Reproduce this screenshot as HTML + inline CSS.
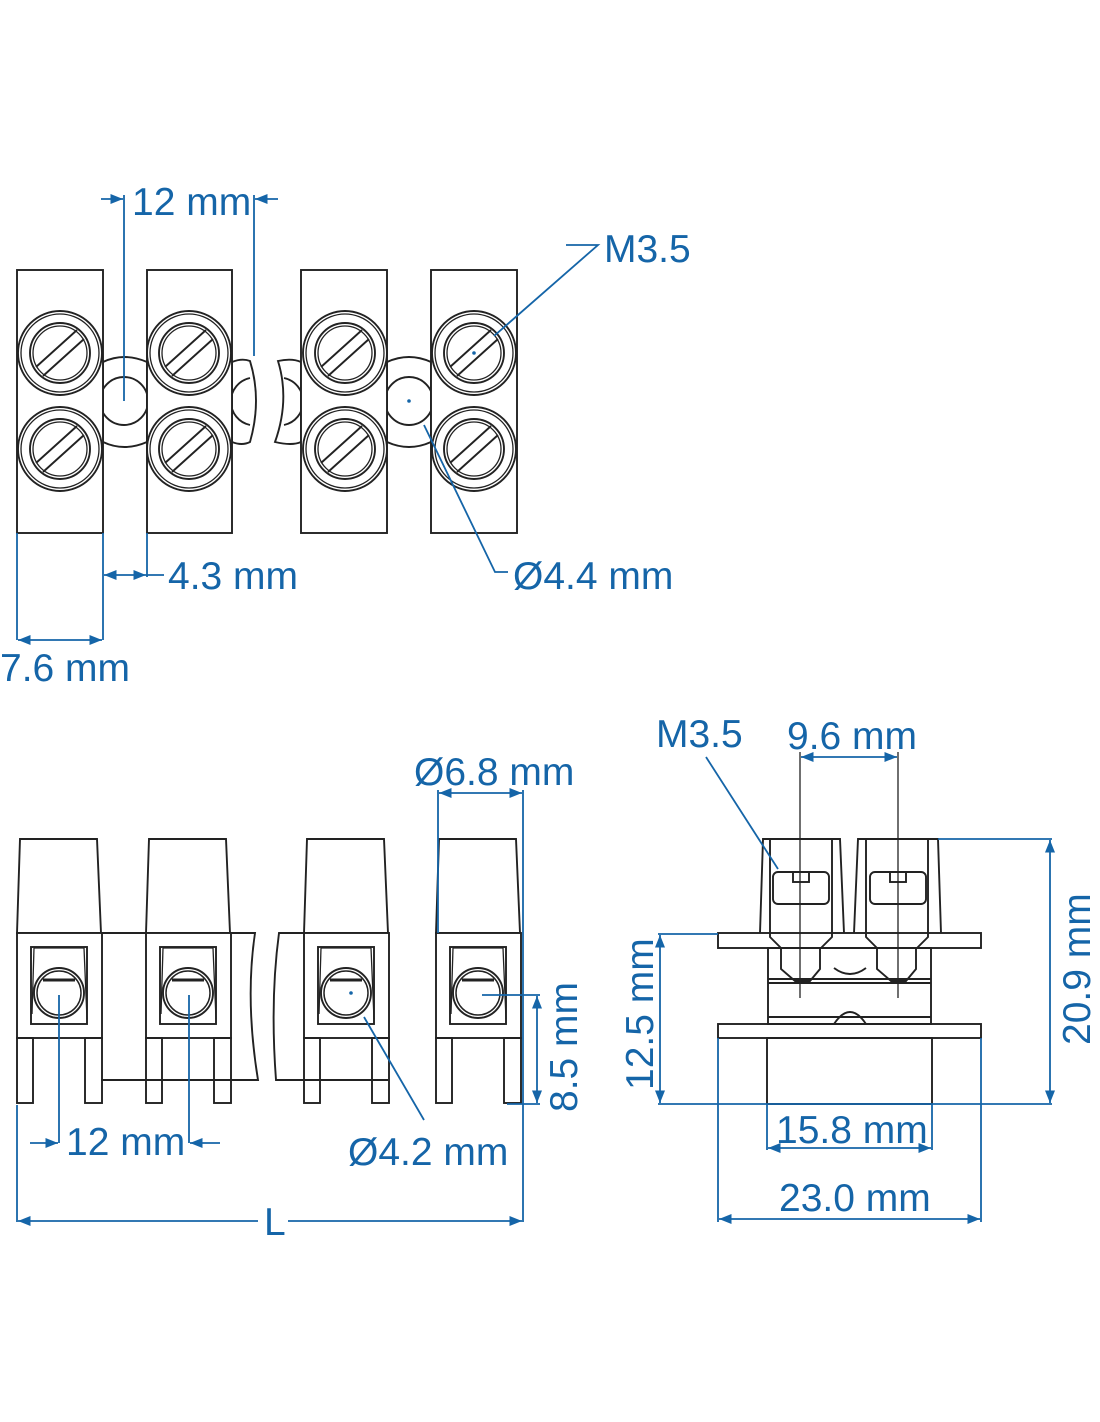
<!DOCTYPE html>
<html><head><meta charset="utf-8"><style>
html,body{margin:0;padding:0;background:#fff;}
svg{display:block;}
text{font-family:"Liberation Sans",sans-serif;fill:#1565a8;font-size:39px;}
</style></head><body>
<svg width="1100" height="1422" viewBox="0 0 1100 1422" xmlns="http://www.w3.org/2000/svg">
<defs>
<marker id="ar" viewBox="0 0 10 10" refX="10" refY="5" markerWidth="7" markerHeight="7" orient="auto-start-reverse"><path d="M0 1 L10 5 L0 9 Z" fill="#1565a8"/></marker>
<g id="scr">
<circle r="42" fill="none" stroke="#222" stroke-width="1.9"/>
<circle r="39" fill="none" stroke="#222" stroke-width="1.3"/>
<circle r="30" fill="none" stroke="#222" stroke-width="1.9"/>
<circle r="27" fill="none" stroke="#222" stroke-width="1.3"/>
<line x1="-24" y1="14" x2="17" y2="-23" stroke="#222" stroke-width="1.9"/>
<line x1="-17" y1="23" x2="24" y2="-14" stroke="#222" stroke-width="1.9"/>
</g>
<g id="fb">
<path d="M3 0 L80 0 L84 94 L0 94 Z" fill="none" stroke="#222" stroke-width="1.9"/>
<rect x="0" y="94" width="85" height="105" fill="#fff" stroke="#222" stroke-width="1.9"/>
<rect x="14" y="108" width="56" height="77" fill="none" stroke="#222" stroke-width="1.9"/>
<path d="M17 109 L67 109 L70 180" fill="none" stroke="#222" stroke-width="1.3"/>
<path d="M17 109 L15 175" fill="none" stroke="#222" stroke-width="1.3"/>
<circle cx="42" cy="154" r="25" fill="none" stroke="#222" stroke-width="1.9"/>
<circle cx="42" cy="154" r="22" fill="none" stroke="#222" stroke-width="1.5"/>
<line x1="26" y1="141" x2="58" y2="141" stroke="#222" stroke-width="3"/>
<rect x="0" y="199" width="16" height="65" fill="none" stroke="#222" stroke-width="1.9"/>
<rect x="68" y="199" width="17" height="65" fill="none" stroke="#222" stroke-width="1.9"/>
</g>
</defs>
<g fill="none" stroke="#222" stroke-width="1.9">
<path d="M103 362 Q124 352 147 362 L147 442 Q124 452 103 442 Z" fill="#fff"/>
<path d="M232 362 Q242 358 250 361 Q262 400 250 442 Q242 446 232 442 Z" fill="#fff"/>
<path d="M301 362 Q292 358 278 361 Q290 400 275 442 Q292 446 301 442 Z" fill="#fff"/>
<path d="M387 362 Q409 352 431 362 L431 442 Q409 452 387 442 Z" fill="#fff"/>
<circle cx="124" cy="401" r="24"/>
<circle cx="409" cy="401" r="24"/>
<path d="M250 378 A24 24 0 0 0 250 425"/>
<path d="M284 378 A24 24 0 0 1 284 425"/>
<rect x="17" y="270" width="86" height="263" fill="#fff"/>
<rect x="147" y="270" width="85" height="263" fill="#fff"/>
<rect x="301" y="270" width="86" height="263" fill="#fff"/>
<rect x="431" y="270" width="86" height="263" fill="#fff"/>
</g>
<use href="#scr" x="60" y="353"/><use href="#scr" x="60" y="449"/>
<use href="#scr" x="189" y="353"/><use href="#scr" x="189" y="449"/>
<use href="#scr" x="345" y="353"/><use href="#scr" x="345" y="449"/>
<use href="#scr" x="474" y="353"/><use href="#scr" x="474" y="449"/>

<g fill="none" stroke="#222" stroke-width="1.9">
<path d="M101 933 L255 933 Q245 1000 258 1080 L101 1080"/>
<path d="M388 933 L279 933 Q270 1000 276 1080 L388 1080"/>
</g>
<use href="#fb" x="17" y="839"/>
<use href="#fb" x="146" y="839"/>
<use href="#fb" x="304" y="839"/>
<use href="#fb" x="436" y="839"/>

<g fill="none" stroke="#222" stroke-width="1.9">
<rect x="718" y="933" width="263" height="15"/>
<rect x="768" y="948" width="163" height="76"/>
<rect x="718" y="1024" width="263" height="14"/>
<rect x="767" y="1038" width="165" height="66"/>
<path d="M760 933 L763 839 L840 839 L844 933"/>
<path d="M854 933 L858 839 L938 839 L941 933"/>
<path d="M770 839 L770 937 L781 948 M832 839 L832 937 L821 948"/>
<path d="M866 839 L866 937 L877 948 M928 839 L928 937 L917 948"/>
<rect x="773" y="872" width="56" height="32" rx="5"/>
<rect x="870" y="872" width="56" height="32" rx="5"/>
<rect x="793" y="872" width="16" height="10"/>
<rect x="890" y="872" width="16" height="10"/>
<path d="M768 979 L931 979 M768 983 L931 983 M768 1017 L931 1017"/>
<path d="M781 948 L781 969 L795 981 L810 981 L820 969 L820 948"/>
<path d="M877 948 L877 969 L891 981 L906 981 L916 969 L916 948"/>
<path d="M834 968 Q850 980 866 968"/>
<path d="M834 1024 Q850 1000 866 1024"/>
<line x1="800" y1="752" x2="800" y2="998" stroke-width="1.3"/>
<line x1="898" y1="752" x2="898" y2="998" stroke-width="1.3"/>
</g>

<g stroke="#1565a8" stroke-width="1.8" fill="none">
<line x1="124" y1="195" x2="124" y2="401"/>
<line x1="254" y1="195" x2="254" y2="356"/>
<line x1="101" y1="199" x2="123" y2="199" marker-end="url(#ar)"/><line x1="278" y1="199" x2="255" y2="199" marker-end="url(#ar)"/>
<polyline points="566,245 598,245 494,336"/>
<polyline points="424,425 495,572 508,572"/>
<line x1="17" y1="533" x2="17" y2="640"/><line x1="103" y1="533" x2="103" y2="640"/>
<line x1="147" y1="533" x2="147" y2="577"/>
<line x1="18" y1="640" x2="102" y2="640" marker-start="url(#ar)" marker-end="url(#ar)"/>
<line x1="104" y1="575" x2="146" y2="575" marker-start="url(#ar)" marker-end="url(#ar)"/><line x1="146" y1="575" x2="164" y2="575"/>
<line x1="438" y1="790" x2="438" y2="933"/><line x1="523" y1="790" x2="523" y2="1222"/>
<line x1="439" y1="793" x2="522" y2="793" marker-start="url(#ar)" marker-end="url(#ar)"/>
<line x1="59" y1="995" x2="59" y2="1143"/><line x1="189" y1="995" x2="189" y2="1143"/>
<line x1="30" y1="1143" x2="58" y2="1143" marker-end="url(#ar)"/><line x1="220" y1="1143" x2="190" y2="1143" marker-end="url(#ar)"/>
<line x1="17" y1="1105" x2="17" y2="1222"/>
<line x1="18" y1="1221" x2="258" y2="1221" marker-start="url(#ar)"/><line x1="288" y1="1221" x2="522" y2="1221" marker-end="url(#ar)"/>
<line x1="482" y1="995" x2="540" y2="995"/>
<line x1="507" y1="1104" x2="540" y2="1104"/>
<line x1="537" y1="996" x2="537" y2="1103" marker-start="url(#ar)" marker-end="url(#ar)"/>
<line x1="364" y1="1017" x2="424" y2="1120"/>
<line x1="706" y1="757" x2="778" y2="869"/>
<line x1="801" y1="757" x2="897" y2="757" marker-start="url(#ar)" marker-end="url(#ar)"/>
<line x1="658" y1="934" x2="718" y2="934"/><line x1="658" y1="1104" x2="1052" y2="1104"/>
<line x1="660" y1="935" x2="660" y2="1103" marker-start="url(#ar)" marker-end="url(#ar)"/>
<line x1="938" y1="839" x2="1052" y2="839"/>
<line x1="1050" y1="840" x2="1050" y2="1103" marker-start="url(#ar)" marker-end="url(#ar)"/>
<line x1="767" y1="1104" x2="767" y2="1150"/><line x1="932" y1="1104" x2="932" y2="1150"/>
<line x1="768" y1="1148" x2="931" y2="1148" marker-start="url(#ar)" marker-end="url(#ar)"/>
<line x1="718" y1="1038" x2="718" y2="1222"/><line x1="981" y1="1038" x2="981" y2="1222"/>
<line x1="719" y1="1219" x2="980" y2="1219" marker-start="url(#ar)" marker-end="url(#ar)"/>
</g>
<g fill="#1565a8">
<circle cx="409" cy="401" r="1.8"/><circle cx="474" cy="353" r="1.8"/><circle cx="351" cy="993" r="1.8"/>
</g>
<text x="132" y="215">12 mm</text>
<text x="604" y="262">M3.5</text>
<text x="168" y="589">4.3 mm</text>
<text x="513" y="589">Ø4.4 mm</text>
<text x="0" y="681">7.6 mm</text>
<text x="414" y="785">Ø6.8 mm</text>
<text x="66" y="1155">12 mm</text>
<text x="348" y="1165">Ø4.2 mm</text>
<text x="264" y="1235">L</text>
<text x="656" y="747">M3.5</text>
<text x="787" y="749">9.6 mm</text>
<text x="776" y="1143">15.8 mm</text>
<text x="779" y="1211">23.0 mm</text>
<text transform="translate(577,1112) rotate(-90)">8.5 mm</text>
<text transform="translate(653,1090) rotate(-90)">12.5 mm</text>
<text transform="translate(1090,1045) rotate(-90)">20.9 mm</text>
</svg>
</body></html>
